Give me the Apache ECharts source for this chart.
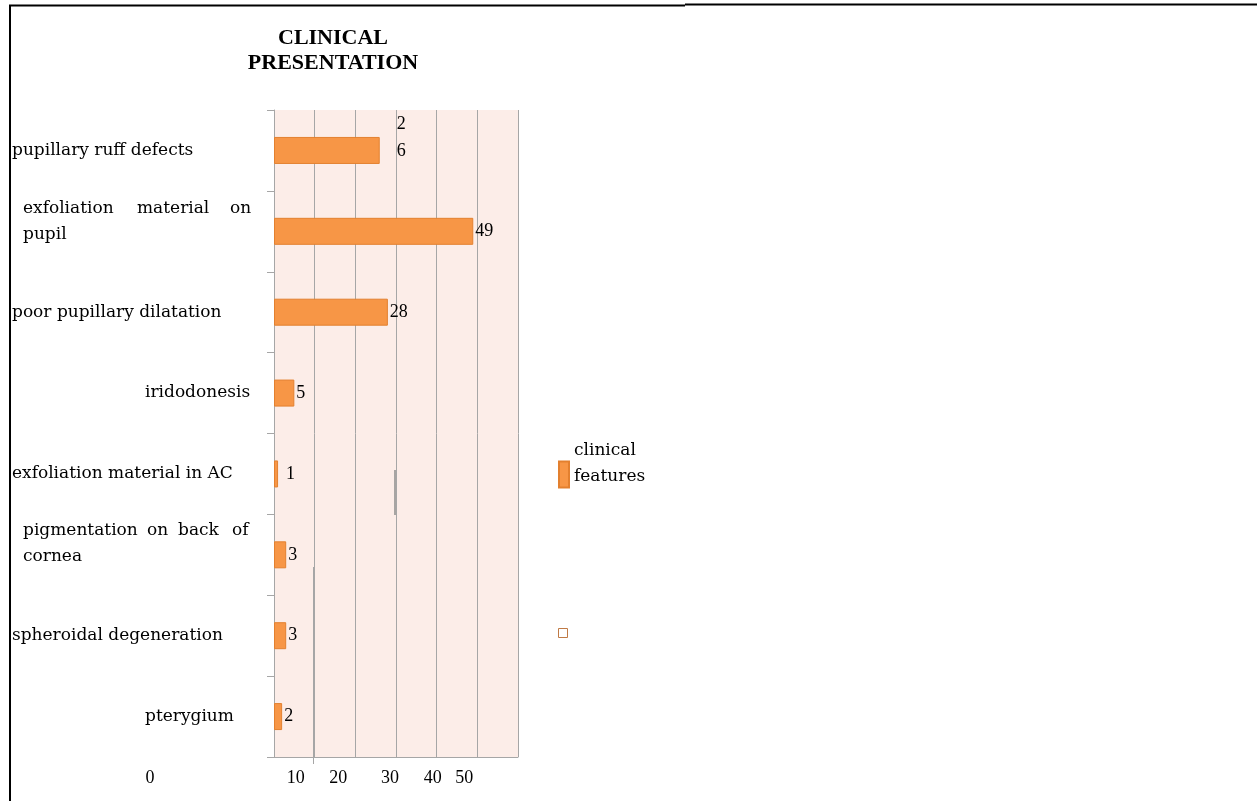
<!DOCTYPE html>
<html>
<head>
<meta charset="utf-8">
<title>Clinical presentation</title>
<script src="https://cdn.jsdelivr.net/npm/echarts@6/dist/echarts.min.js"></script>
<style>
  html, body { margin: 0; padding: 0; background: #ffffff; }
  #chart { width: 1257px; height: 801px; }
</style>
</head>
<body>
<div id="chart"></div>
<script>
// ---- data ----
const categories = [
  'pupillary ruff defects',
  'exfoliation material on pupil',
  'poor pupillary dilatation',
  'iridodonesis',
  'exfoliation material in AC',
  'pigmentation on back of cornea',
  'spheroidal degeneration',
  'pterygium'
];
const counts = [26, 49, 28, 5, 1, 3, 3, 2];
const seriesName = 'clinical features';
const xTicks = [0, 10, 20, 30, 40, 50];
const titleLines = ['CLINICAL', 'PRESENTATION'];

// ---- styling ----
const SERIF = 'Liberation Serif';
const WIDE_SERIF = 'DejaVu Serif';
const ORANGE = '#f79646';
const GRID_GREY = '#a6a6a6';

// horizontal nudges of the value-axis labels (px, negative = left)
const xLabelShift = { 0: -124, 10: -19, 20: -17, 30: -6, 40: -4, 50: -13 };

// category label layout: indent, wrapping and justified word boxes
const yLayout = {
  'exfoliation material on pupil': { indent: 11, breakAfter: 3, boxes: [114, 93], tail: 20 },
  'pigmentation on back of cornea': { indent: 11, breakAfter: 4, boxes: [124, 31, 54], tail: 22 },
  'iridodonesis': { indent: 133 },
  'pterygium': { indent: 133 }
};

// per-bar value label tweaks
const valueLabelTweak = {
  'pupillary ruff defects': { stackDigits: true, distance: 17, offset: [0, -13] },
  'exfoliation material in AC': { distance: 8 }
};

// build rich styles for the category labels
const yRich = {
  n: { fontFamily: WIDE_SERIF, fontSize: 17, lineHeight: 26, color: '#000' }
};
function richKey(prefix, w) {
  const k = prefix + w;
  if (!yRich[k]) {
    yRich[k] = prefix === 's'
      ? { fontFamily: WIDE_SERIF, fontSize: 10, lineHeight: w, color: '#000' }
      : { fontFamily: WIDE_SERIF, fontSize: 17, lineHeight: 26, width: w, color: '#000' };
  }
  return k;
}
function formatCategory(name) {
  const l = yLayout[name];
  if (!l) return '{n|' + name + '}';
  const ind = l.indent ? '{' + richKey('w', l.indent) + '| }' : '';
  if (!l.breakAfter) return ind + '{n|' + name + '}';
  const words = name.split(' ');
  const first = words.slice(0, l.breakAfter);
  const rest = words.slice(l.breakAfter).join(' ');
  let line1 = ind;
  first.forEach((w, i) => {
    if (i < l.boxes.length) line1 += '{' + richKey('w', l.boxes[i]) + '|' + w + '}';
    else line1 += '{n|' + w + '}';
  });
  const line2 = ind + '{n|' + rest + '}';
  return line1 + '\n' + line2 + '\n{' + richKey('s', l.tail) + '| }';
}
categories.forEach(formatCategory); // registers rich styles

// value axis label rich styles
const xRich = {};
xTicks.forEach(v => {
  const s = xLabelShift[v] || 0;
  xRich['t' + v] = {
    fontFamily: SERIF, fontSize: 18, lineHeight: 18, color: '#000',
    padding: s < 0 ? [0, -2 * s, 0, 0] : [0, 0, 0, 2 * s]
  };
});
const tickText = v => '{t' + v + '|' + v + '}';
const originTick = xTicks[0];

const barData = counts.map((v, i) => {
  const tw = valueLabelTweak[categories[i]];
  if (!tw) return v;
  const label = {};
  if (tw.distance != null) label.distance = tw.distance;
  if (tw.offset) label.offset = tw.offset;
  if (tw.stackDigits) {
    label.formatter = p => String(p.value).split('').join('\n');
    label.lineHeight = 27;
  }
  return { value: v, label };
});

const chart = echarts.init(document.getElementById('chart'), null, { renderer: 'canvas' });

const valueAxisBase = {
  type: 'value',
  min: 0,
  max: 60,
  interval: 10,
  position: 'bottom',
  axisTick: { show: false }
};

chart.setOption({
  animation: false,
  backgroundColor: '#ffffff',
  title: {
    text: titleLines.join('\n'),
    left: 333,
    top: 26,
    textAlign: 'center',
    padding: 0,
    textStyle: {
      fontFamily: SERIF, fontSize: 22, fontWeight: 'bold', color: '#000',
      lineHeight: 25, align: 'center'
    }
  },
  legend: {
    orient: 'vertical',
    left: 558,
    top: 442,
    padding: 0,
    itemWidth: 10,
    itemHeight: 26,
    icon: 'rect',
    data: [seriesName],
    formatter: name => name.split(' ').map(w => '{a|' + w + '}').join('\n') + '\n{g| }',
    textStyle: {
      rich: {
        a: { fontFamily: WIDE_SERIF, fontSize: 17, lineHeight: 26, color: '#000' },
        g: { fontFamily: WIDE_SERIF, fontSize: 10, lineHeight: 22 }
      }
    }
  },
  grid: {
    left: 274,
    right: 739,
    top: 110,
    bottom: 44,
    show: true,
    backgroundColor: '#fcede8',
    borderWidth: 0
  },
  xAxis: [
    Object.assign({}, valueAxisBase, {
      axisLine: { show: true, lineStyle: { color: GRID_GREY, width: 1 } },
      splitLine: { show: true, lineStyle: { color: GRID_GREY, width: 1 } },
      axisLabel: {
        margin: 12,
        hideOverlap: false,
        formatter: v => (v !== originTick && xTicks.indexOf(v) >= 0) ? tickText(v) : '',
        rich: xRich
      }
    }),
    // second scale carrying only the origin label, set well to the left
    Object.assign({}, valueAxisBase, {
      axisLine: { show: false },
      splitLine: { show: false },
      axisLabel: {
        margin: 12,
        showMinLabel: true,
        hideOverlap: false,
        formatter: v => v === originTick ? tickText(v) : '',
        rich: xRich
      }
    })
  ],
  yAxis: {
    type: 'category',
    inverse: true,
    data: categories,
    axisLine: { show: true, lineStyle: { color: GRID_GREY, width: 1 } },
    axisTick: { show: true, length: 7, lineStyle: { color: GRID_GREY } },
    splitLine: { show: false },
    axisLabel: {
      align: 'left',
      margin: 262,
      lineHeight: 26,
      formatter: formatCategory,
      rich: yRich
    }
  },
  series: [{
    name: seriesName,
    type: 'bar',
    xAxisIndex: 0,
    data: barData,
    barWidth: 27,
    itemStyle: { color: ORANGE, borderColor: '#e3802f', borderWidth: 1 },
    label: {
      show: true,
      position: 'right',
      distance: 2,
      fontFamily: SERIF,
      fontSize: 18,
      color: '#000'
    }
  }],
  graphic: [
    // page frame
    { type: 'line', silent: true, shape: { x1: 10, y1: 5, x2: 10, y2: 801 }, style: { stroke: '#000', lineWidth: 2 } },
    { type: 'line', silent: true, shape: { x1: 9, y1: 5.5, x2: 685, y2: 5.5 }, style: { stroke: '#000', lineWidth: 2 } },
    { type: 'line', silent: true, shape: { x1: 685, y1: 4.5, x2: 1257, y2: 4.5 }, style: { stroke: '#000', lineWidth: 2 } },
    // stray rules inside the plot
    { type: 'line', silent: true, shape: { x1: 313.5, y1: 567, x2: 313.5, y2: 764 }, style: { stroke: GRID_GREY, lineWidth: 1 } },
    { type: 'line', silent: true, shape: { x1: 395, y1: 470, x2: 395, y2: 515 }, style: { stroke: '#8c8c8c', lineWidth: 1.5 } },
    // empty legend swatch
    { type: 'rect', silent: true, shape: { x: 558.5, y: 628.5, width: 9, height: 9 }, style: { fill: '#ffffff', stroke: '#c07a45', lineWidth: 1 } }
  ]
});
</script>
</body>
</html>
